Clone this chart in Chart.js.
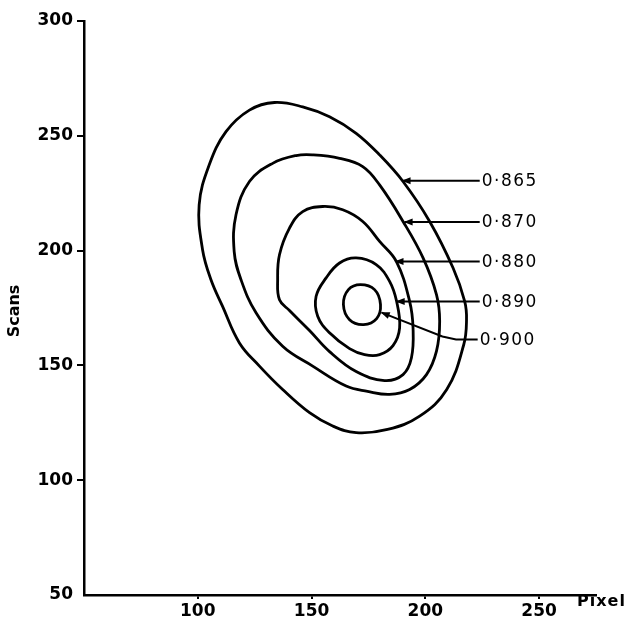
<!DOCTYPE html>
<html>
<head>
<meta charset="utf-8">
<script src="https://cdn.jsdelivr.net/npm/chart.js@4.4.1/dist/chart.umd.min.js"></script>
<style>
  html, body { margin: 0; padding: 0; background: #fff; }
</style>
</head>
<body>
<canvas id="chart" width="624" height="622"></canvas>
<script>
// contour levels, outermost first
const levels = ["0·865", "0·870", "0·880", "0·890", "0·900"]

// contour outlines as [pixel, scans] pairs
const contour865 = [[100.6,219.9],[105.0,237.3],[112.4,251.8],[122.7,261.2],[133.7,264.5],[146.1,262.6],[157.9,258.3],[169.6,251.1],[179.9,241.7],[190.2,230.1],[201.9,212.7],[212.2,192.4],[217.3,177.9],[218.1,169.9],[216.9,159.1],[209.4,139.5],[197.5,127.9],[183.4,122.1],[169.6,120.7],[159.3,123.6],[149.1,129.4],[137.3,139.5],[127.1,149.7],[118.3,159.8],[110.9,175.7],[105.8,187.3],[102.1,200.4]]
const contour870 = [[116.8,215.6],[122.7,230.1],[132.9,238.0],[143.2,241.4],[150.5,241.7],[162.3,240.2],[172.5,236.6],[179.9,228.6],[190.2,212.7],[199.0,196.8],[204.9,180.8],[206.3,169.2],[204.9,156.2],[200.5,146.0],[193.1,139.5],[184.3,137.4],[174.6,138.7],[165.2,141.0],[150.5,149.7],[137.3,158.3],[125.6,172.9],[119.0,187.3],[116.0,199.6]]
const contour880 = [[154.9,219.2],[163.7,217.8],[172.5,212.7],[179.9,204.0],[187.3,195.2],[193.1,177.9],[194.6,166.3],[193.9,153.3],[190.2,146.0],[182.1,143.4],[169.6,147.3],[157.9,156.0],[149.1,165.2],[140.3,173.9],[135.9,178.6],[135.1,187.3],[135.9,198.2],[140.3,209.8],[146.1,217.0]]
const contour890 = [[169.6,196.8],[178.4,193.9],[184.3,186.6],[187.4,177.8],[188.7,166.3],[185.8,158.6],[179.9,154.7],[173.3,154.7],[166.7,157.3],[157.9,164.2],[152.7,171.4],[152.0,180.1],[156.4,188.1],[162.3,194.6]]
const contour900 = [[171.5,185.2],[177.7,183.0],[180.3,176.5],[178.6,170.4],[172.9,167.8],[166.7,169.9],[164.0,176.5],[166.2,183.0]]

// leader lines from each contour out to its label
const leader865 = [[190.0,230.4],[223.9,230.4]]
const leader870 = [[190.9,212.5],[223.9,212.5]]
const leader880 = [[186.9,195.2],[223.9,195.2]]
const leader890 = [[187.4,177.8],[223.9,177.8]]
const leader900 = [[180.8,173.0],[207.5,162.6],[213.5,161.3],[223.0,161.3]]

const xTicks = [100, 150, 200, 250]
const yTicks = [50, 100, 150, 200, 250, 300]

const contours = [contour865, contour870, contour880, contour890, contour900]
const leaders = [leader865, leader870, leader880, leader890, leader900]

const FONT = "'DejaVu Sans', 'Liberation Sans', sans-serif"

// close each outline into a smooth loop
const closeLoops = {
  id: "closeLoops",
  afterDatasetUpdate(chart, args) {
    const line = args.meta.dataset
    if (!line) return
    line._loop = true
    line._fullLoop = true
    line._segments = undefined
    line._pointsUpdated = false
  }
}

const annotations = {
  id: "annotations",
  afterDatasetsDraw(chart) {
    const { ctx, chartArea, scales: { x, y } } = chart
    ctx.save()
    ctx.strokeStyle = "#000"
    ctx.fillStyle = "#000"
    ctx.lineWidth = 2

    leaders.forEach((pts, i) => {
      const p = pts.map(([a, b]) => [x.getPixelForValue(a), y.getPixelForValue(b)])
      ctx.beginPath()
      ctx.moveTo(p[0][0], p[0][1])
      p.slice(1).forEach(q => ctx.lineTo(q[0], q[1]))
      ctx.stroke()

      // arrowhead on the contour end
      const ang = Math.atan2(p[0][1] - p[1][1], p[0][0] - p[1][0])
      ctx.save()
      ctx.translate(p[0][0], p[0][1])
      ctx.rotate(ang)
      ctx.beginPath()
      ctx.moveTo(1, 0)
      ctx.lineTo(-8, -3.5)
      ctx.lineTo(-8, 3.5)
      ctx.closePath()
      ctx.fill()
      ctx.restore()

      const end = p[p.length - 1]
      ctx.font = "17px " + FONT
      ctx.letterSpacing = "1.5px"
      ctx.textAlign = "left"
      ctx.textBaseline = "middle"
      ctx.fillText(levels[i], end[0] + 2, end[1] + 1)
    })

    ctx.letterSpacing = "0px"
    ctx.font = "bold 16px " + FONT
    ctx.textBaseline = "middle"

    // y axis title
    ctx.save()
    ctx.translate(15, (chartArea.top + chartArea.bottom) / 2 + 3)
    ctx.rotate(-Math.PI / 2)
    ctx.textAlign = "center"
    ctx.fillText("Scans", 0, 0)
    ctx.restore()

    // x axis title, at the right end of the axis
    ctx.textAlign = "left"
    ctx.letterSpacing = "1px"
    ctx.fillText("Pixel", chartArea.right - 19, chartArea.bottom + 7)
    ctx.restore()
  }
}

new Chart(document.getElementById("chart"), {
  type: "scatter",
  data: {
    datasets: contours.map((c, i) => ({
      label: levels[i],
      data: c.map(([px, sc]) => ({ x: px, y: sc })),
      showLine: true,
      borderColor: "#000",
      backgroundColor: "#000",
      borderWidth: 2.8,
      pointRadius: 0,
      tension: 0.4,
      fill: false
    }))
  },
  options: {
    responsive: false,
    animation: false,
    events: [],
    layout: { padding: { top: 21, right: 28, left: 0, bottom: 0 } },
    plugins: { legend: { display: false }, tooltip: { enabled: false } },
    scales: {
      x: {
        type: "linear",
        min: 50,
        max: 275,
        afterBuildTicks: s => { s.ticks = xTicks.map(v => ({ value: v })) },
        afterFit: s => { s.height = 27 },
        border: { color: "#000", width: 2.5 },
        grid: { drawOnChartArea: false, color: "#000", lineWidth: 2, tickLength: 4 },
        ticks: {
          color: "#000",
          padding: 2,
          maxRotation: 0,
          autoSkip: false,
          font: { family: FONT, size: 17, weight: "bold" }
        }
      },
      y: {
        type: "linear",
        min: 50,
        max: 300,
        afterBuildTicks: s => { s.ticks = yTicks.map(v => ({ value: v })) },
        afterFit: s => { s.width = 84 },
        border: { color: "#000", width: 2.5 },
        grid: {
          drawOnChartArea: false,
          color: "#000",
          lineWidth: 2,
          tickLength: 7,
          tickColor: c => (c.tick && c.tick.value === 50 ? "rgba(0,0,0,0)" : "#000")
        },
        ticks: {
          color: "#000",
          padding: 4,
          font: { family: FONT, size: 17, weight: "bold" }
        }
      }
    }
  },
  plugins: [closeLoops, annotations]
})
</script>
</body>
</html>
